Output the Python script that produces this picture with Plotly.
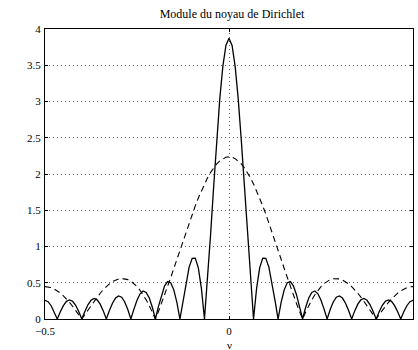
import plotly.graph_objects as go

# frequency grid (nu from -0.5 to 0.5)
nu = [j / 120 for j in range(-60, 61)]

# |D_N(nu)| / sqrt(N), N = 15 (solid)
mod_n15 = [
    0.258, 0.239, 0.183, 0.099, 0, 0.100, 0.185, 0.243, 0.264, 0.245, 0.189, 0.103,
    0, 0.105, 0.196, 0.258, 0.283, 0.264, 0.205, 0.112, 0, 0.116, 0.218, 0.289,
    0.319, 0.301, 0.235, 0.130, 0, 0.136, 0.258, 0.347, 0.386, 0.367, 0.290, 0.162,
    0, 0.174, 0.335, 0.457, 0.516, 0.500, 0.402, 0.230, 0, 0.258, 0.509, 0.715,
    0.836, 0.840, 0.705, 0.423, 0, 0.542, 1.167, 1.827, 2.470, 3.040, 3.488, 3.774,
    3.873,
    3.774, 3.488, 3.040, 2.470, 1.827, 1.167, 0.542, 0, 0.423, 0.705, 0.840, 0.836,
    0.715, 0.509, 0.258, 0, 0.230, 0.402, 0.500, 0.516, 0.457, 0.335, 0.174, 0,
    0.162, 0.290, 0.367, 0.386, 0.347, 0.258, 0.136, 0, 0.130, 0.235, 0.301, 0.319,
    0.289, 0.218, 0.116, 0, 0.112, 0.205, 0.264, 0.283, 0.258, 0.196, 0.105, 0,
    0.103, 0.189, 0.245, 0.264, 0.243, 0.185, 0.100, 0, 0.099, 0.183, 0.239, 0.258,
]

# |D_N(nu)| / sqrt(N), N = 5 (dashed)
mod_n5 = [
    0.447, 0.444, 0.433, 0.414, 0.389, 0.358, 0.320, 0.277, 0.229, 0.176, 0.120, 0.061,
    0, 0.062, 0.124, 0.185, 0.245, 0.302, 0.355, 0.404, 0.447, 0.485, 0.515, 0.538,
    0.553, 0.559, 0.556, 0.543, 0.521, 0.489, 0.447, 0.396, 0.334, 0.264, 0.184, 0.096,
    0, 0.103, 0.213, 0.328, 0.447, 0.571, 0.697, 0.824, 0.952, 1.080, 1.205, 1.328,
    1.447, 1.561, 1.669, 1.770, 1.863, 1.947, 2.022, 2.086, 2.139, 2.181, 2.211, 2.230,
    2.236,
    2.230, 2.211, 2.181, 2.139, 2.086, 2.022, 1.947, 1.863, 1.770, 1.669, 1.561, 1.447,
    1.328, 1.205, 1.080, 0.952, 0.824, 0.697, 0.571, 0.447, 0.328, 0.213, 0.103, 0,
    0.096, 0.184, 0.264, 0.334, 0.396, 0.447, 0.489, 0.521, 0.543, 0.556, 0.559, 0.553,
    0.538, 0.515, 0.485, 0.447, 0.404, 0.355, 0.302, 0.245, 0.185, 0.124, 0.062, 0,
    0.061, 0.120, 0.176, 0.229, 0.277, 0.320, 0.358, 0.389, 0.414, 0.433, 0.444, 0.447,
]

x_tickvals = [-0.5, 0, 0.5]
x_ticktext = ["\u22120.5", "0", "0.5"]
y_tickvals = [0, 0.5, 1, 1.5, 2, 2.5, 3, 3.5, 4]
y_ticktext = ["0", "0.5", "1", "1.5", "2", "2.5", "3", "3.5", "4"]

assert len(nu) == len(mod_n15) == len(mod_n5)

font_family = "Liberation Serif, Times New Roman, serif"

fig = go.Figure()
fig.add_trace(go.Scatter(x=nu, y=mod_n5, mode="lines",
                         line=dict(color="black", width=1.1, dash="6px,4px"),
                         showlegend=False))
fig.add_trace(go.Scatter(x=nu, y=mod_n15, mode="lines",
                         line=dict(color="black", width=1.3),
                         showlegend=False))

axis_common = dict(
    showline=True, linecolor="black", linewidth=1, mirror="ticks",
    ticks="inside", ticklen=3, tickcolor="black",
    showgrid=True, gridcolor="#666", griddash="1px,3px", gridwidth=1,
    zeroline=False, automargin=False,
    tickfont=dict(family=font_family, size=11, color="black"),
)

fig.update_layout(
    width=418, height=350,
    margin=dict(l=45, r=5, t=29, b=31),
    paper_bgcolor="white", plot_bgcolor="white",
    title=dict(text="Module du noyau de Dirichlet", x=0.555, xanchor="center",
               y=0.96, yanchor="middle",
               font=dict(family=font_family, size=12, color="black")),
    xaxis=dict(range=[-0.5, 0.5], tickvals=x_tickvals, ticktext=x_ticktext,
               ticklabelstandoff=2, **axis_common),
    yaxis=dict(range=[0, 4], tickvals=y_tickvals, ticktext=y_ticktext,
               ticklabelstandoff=1, **axis_common),
)

fig.add_annotation(text="\u03bd", x=0, xref="x", y=0, yref="paper",
                   yshift=-26, yanchor="middle", xanchor="center",
                   showarrow=False,
                   font=dict(family=font_family, size=11, color="black"))

fig.write_html("out.html")
